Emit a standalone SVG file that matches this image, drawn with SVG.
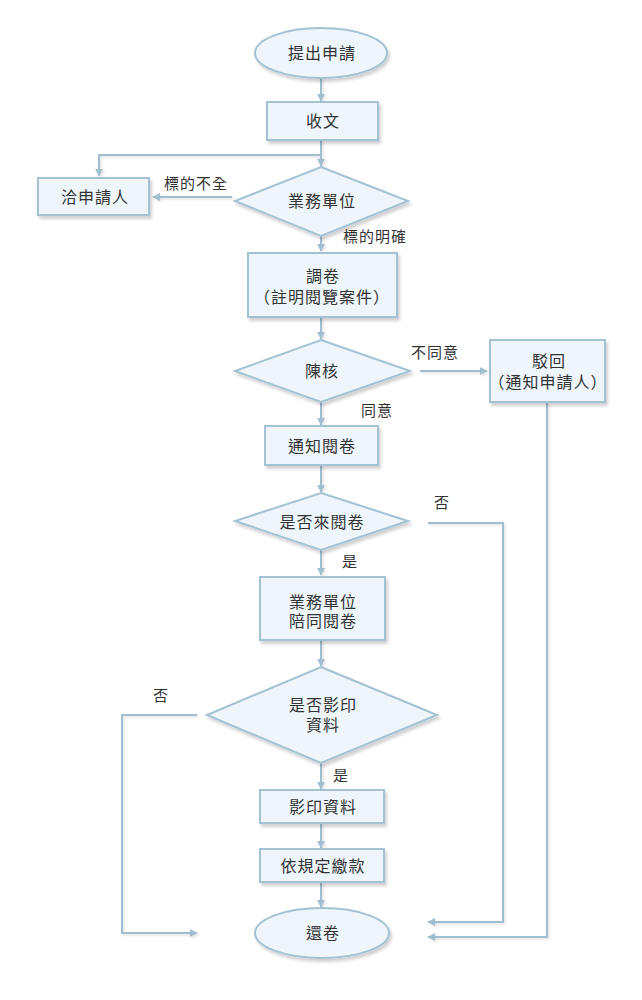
<svg xmlns="http://www.w3.org/2000/svg" width="642" height="1000" viewBox="0 0 642 1000">
<defs>
<filter id="sh" x="-10%" y="-10%" width="130%" height="140%">
<feDropShadow dx="2" dy="3" stdDeviation="1.5" flood-color="#000" flood-opacity="0.18"/>
</filter>
<filter id="lsh" filterUnits="userSpaceOnUse" x="0" y="0" width="642" height="1000">
<feDropShadow dx="1.5" dy="1.5" stdDeviation="0.8" flood-color="#000" flood-opacity="0.12"/>
</filter>
<marker id="ah" viewBox="0 0 10 10" refX="9" refY="5" markerWidth="4" markerHeight="4" orient="auto" markerUnits="strokeWidth">
<path d="M0,0 L10,5 L0,10 Z" fill="#9fbfd0"/>
</marker>
</defs>
<style>
.n{fill:#eef6fb;stroke:#a3c2d3;stroke-width:2;filter:url(#sh)}
.t{font-family:"Liberation Sans","Noto Sans CJK TC",sans-serif;font-size:16px;letter-spacing:1px;fill:#333;text-anchor:middle}
.l{font-family:"Liberation Sans","Noto Sans CJK TC",sans-serif;font-size:15px;letter-spacing:1px;fill:#333}
.c{fill:none;stroke:#9fbfd0;stroke-width:2;marker-end:url(#ah)}
</style>
<rect width="642" height="1000" fill="#fff"/>
<g id="connectors" filter="url(#lsh)">
<path class="c" d="M321,78 V101"/>
<path class="c" d="M321,140 V166"/>
<path class="c" d="M321,155 H99 V176"/>
<path class="c" d="M232,197 H153"/>
<path class="c" d="M321,236 V251"/>
<path class="c" d="M321,317 V339"/>
<path class="c" d="M420,371 H487"/>
<path class="c" d="M321,402 V425"/>
<path class="c" d="M321,465 V492"/>
<path class="c" d="M428,523 H503 V922 H428"/>
<path class="c" d="M321,550 V575"/>
<path class="c" d="M547,402 V937 H428"/>
<path class="c" d="M321,640 V666"/>
<path class="c" d="M197,715 H122 V933 H197"/>
<path class="c" d="M321,763 V789"/>
<path class="c" d="M321,823 V848"/>
<path class="c" d="M321,882 V907"/>
</g>
<g id="start"><ellipse class="n" cx="321" cy="53" rx="66" ry="25"/><text class="t" x="322" y="59">提出申請</text></g>
<g id="receive"><rect class="n" x="267" y="102" width="111" height="38"/><text class="t" x="323" y="127">收文</text></g>
<g id="contact"><rect class="n" x="38" y="178" width="111" height="37"/><text class="t" x="95" y="203">洽申請人</text></g>
<g id="unit"><path class="n" d="M321,167 L408,201 L321,236 L235,201 Z"/><text class="t" x="322" y="207">業務單位</text></g>
<text class="l" x="164" y="189">標的不全</text>
<text class="l" x="343" y="242">標的明確</text>
<g id="retrieve"><rect class="n" x="248" y="253" width="149" height="64"/><text class="t" x="323" y="282">調卷</text><text class="t" x="322" y="303">（註明閱覽案件）</text></g>
<g id="review"><path class="n" d="M321,340 L410,371 L321,402 L235,371 Z"/><text class="t" x="322" y="377">陳核</text></g>
<text class="l" x="411" y="358">不同意</text>
<text class="l" x="361" y="416">同意</text>
<g id="reject"><rect class="n" x="490" y="340" width="115" height="62"/><text class="t" x="549" y="367">駁回</text><text class="t" x="548" y="388">（通知申請人）</text></g>
<g id="notify"><rect class="n" x="265" y="426" width="113" height="39"/><text class="t" x="322" y="452">通知閱卷</text></g>
<g id="come"><path class="n" d="M321,493 L408,521 L321,550 L235,521 Z"/><text class="t" x="322" y="528">是否來閱卷</text></g>
<text class="l" x="434" y="508">否</text>
<text class="l" x="342" y="567">是</text>
<g id="accompany"><rect class="n" x="260" y="577" width="125" height="63"/><text class="t" x="323" y="608">業務單位</text><text class="t" x="323" y="627">陪同閱卷</text></g>
<g id="copyq"><path class="n" d="M321,667 L437,715 L321,763 L207,715 Z"/><text class="t" x="323" y="711">是否影印</text><text class="t" x="323" y="731">資料</text></g>
<text class="l" x="153" y="701">否</text>
<text class="l" x="333" y="781">是</text>
<g id="copy"><rect class="n" x="260" y="790" width="124" height="33"/><text class="t" x="323" y="813">影印資料</text></g>
<g id="pay"><rect class="n" x="260" y="849" width="124" height="33"/><text class="t" x="323" y="872">依規定繳款</text></g>
<g id="end"><ellipse class="n" cx="322" cy="933" rx="67" ry="25"/><text class="t" x="323" y="939">還卷</text></g>
</svg>
